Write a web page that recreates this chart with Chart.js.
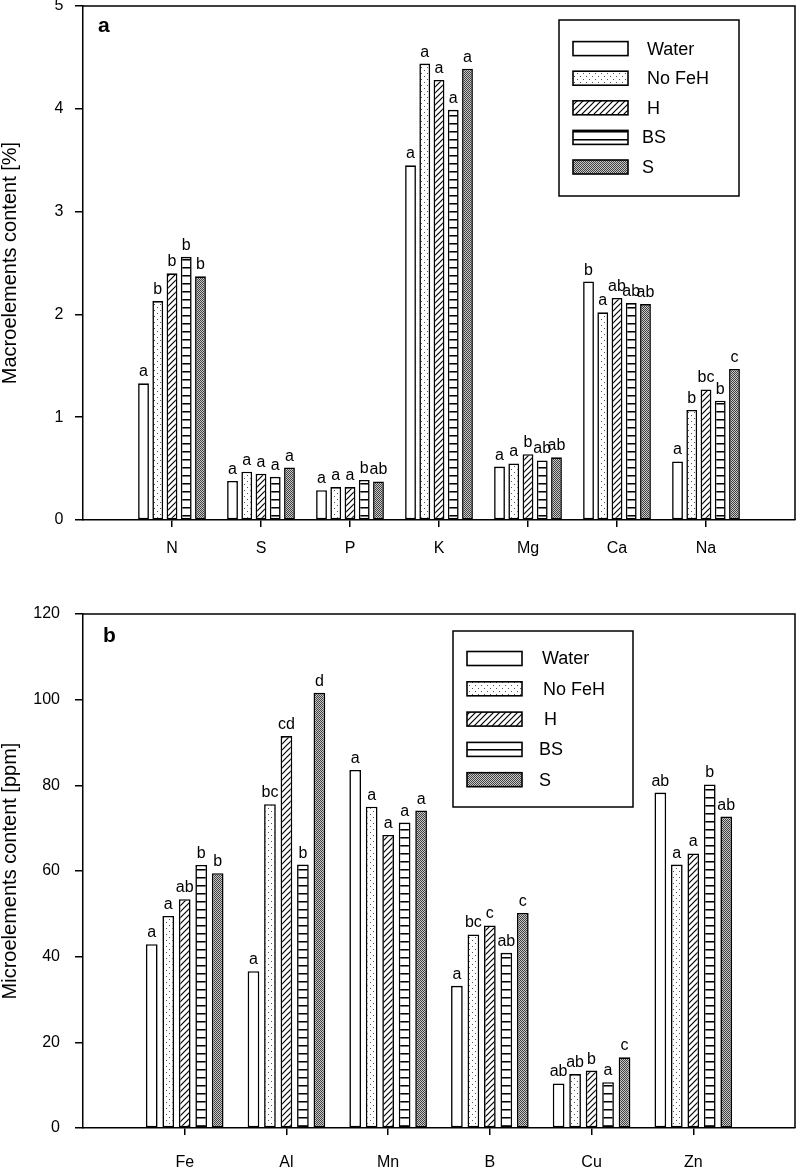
<!DOCTYPE html>
<html>
<head>
<meta charset="utf-8">
<script src="https://cdn.jsdelivr.net/npm/chart.js@4.4.1/dist/chart.umd.min.js"></script>
<style>
  html, body { margin: 0; padding: 0; background: #fff; }
  #wrap { position: relative; width: 796px; height: 1169px; }
  canvas { position: absolute; left: 0; }
  #macroChart { top: 0; }
  #microChart { top: 570px; }
</style>
</head>
<body>
<div id="wrap">
  <canvas id="macroChart" width="796" height="570"></canvas>
  <canvas id="microChart" width="796" height="599"></canvas>
</div>
<script>
// series (treatments)
const seriesNames = ['Water', 'No FeH', 'H', 'BS', 'S'];

// panel a: macroelements [%]
const macroLabels = ['N', 'S', 'P', 'K', 'Mg', 'Ca', 'Na'];
const macroWater = [1.33, 0.38, 0.29, 3.45, 0.52, 2.32, 0.57];
const macroNoFeH = [2.13, 0.47, 0.32, 4.44, 0.55, 2.02, 1.07];
const macroH     = [2.40, 0.45, 0.32, 4.28, 0.64, 2.16, 1.27];
const macroBS    = [2.56, 0.42, 0.39, 3.99, 0.58, 2.11, 1.16];
const macroS     = [2.37, 0.51, 0.375, 4.39, 0.61, 2.10, 1.47];
const macroLetters = [
  ['a', 'a', 'a', 'a', 'a', 'b', 'a'],
  ['b', 'a', 'a', 'a', 'a', 'a', 'b'],
  ['b', 'a', 'a', 'a', 'b', 'ab', 'bc'],
  ['b', 'a', 'b', 'a', 'ab', 'ab', 'b'],
  ['b', 'a', 'ab', 'a', 'ab', 'ab', 'c']
];
const macroTicks = { min: 0, max: 5, step: 1 };

// panel b: microelements [ppm]
const microLabels = ['Fe', 'Al', 'Mn', 'B', 'Cu', 'Zn'];
const microWater = [42.9, 36.6, 83.6, 33.2, 10.4, 78.3];
const microNoFeH = [49.5, 75.6, 75.0, 45.2, 12.6, 61.5];
const microH     = [53.4, 91.5, 68.4, 47.3, 13.4, 64.1];
const microBS    = [61.4, 61.5, 71.3, 40.9, 10.7, 80.2];
const microS     = [59.5, 101.6, 74.1, 50.2, 16.5, 72.7];
const microLetters = [
  ['a', 'a', 'a', 'a', 'ab', 'ab'],
  ['a', 'bc', 'a', 'bc', 'ab', 'a'],
  ['ab', 'cd', 'a', 'c', 'b', 'a'],
  ['b', 'b', 'a', 'ab', 'a', 'b'],
  ['b', 'd', 'a', 'c', 'c', 'ab']
];
const microTicks = { min: 0, max: 120, step: 20 };

const FONT = "'Liberation Sans', Arial, sans-serif";
Chart.defaults.font.family = FONT;
Chart.defaults.color = '#000';

// fill patterns like the sigmaplot hatches
function pattern(w, h, draw) {
  const c = document.createElement('canvas');
  c.width = w; c.height = h;
  const g = c.getContext('2d');
  g.fillStyle = '#fff';
  g.fillRect(0, 0, w, h);
  draw(g);
  return g.createPattern(c, 'repeat');
}
const fills = [
  '#ffffff',
  pattern(6, 6, g => {
    g.fillStyle = '#555';
    g.fillRect(1, 1, 1, 1);
    g.fillRect(4, 4, 1, 1);
  }),
  pattern(6, 6, g => {
    g.strokeStyle = '#000';
    g.lineWidth = 1.2;
    g.beginPath();
    g.moveTo(0, 6); g.lineTo(6, 0);
    g.moveTo(-1, 1); g.lineTo(1, -1);
    g.moveTo(5, 7); g.lineTo(7, 5);
    g.stroke();
  }),
  pattern(4, 8, g => {
    g.fillStyle = '#000';
    g.fillRect(0, 3, 4, 1);
    g.fillStyle = '#777';
    g.fillRect(0, 4, 4, 1);
  }),
  pattern(2, 2, g => {
    g.fillStyle = '#c8c8c8';
    g.fillRect(0, 0, 2, 2);
    g.fillStyle = '#404040';
    g.fillRect(0, 0, 1, 1);
    g.fillRect(1, 1, 1, 1);
  })
];

// frame, significance letters, panel letter and boxed legend
const decor = {
  id: 'decor',
  afterDatasetsDraw(chart, args, opts) {
    const ctx = chart.ctx;
    const area = chart.chartArea;
    ctx.save();
    ctx.strokeStyle = '#000';
    ctx.lineWidth = 1.5;
    ctx.beginPath();
    ctx.moveTo(area.left, area.top);
    ctx.lineTo(area.right, area.top);
    ctx.lineTo(area.right, area.bottom);
    ctx.stroke();

    ctx.fillStyle = '#000';
    ctx.font = '16px ' + FONT;
    ctx.textAlign = 'center';
    ctx.textBaseline = 'alphabetic';
    opts.letters.forEach((row, i) => {
      const meta = chart.getDatasetMeta(i);
      row.forEach((txt, j) => {
        const bar = meta.data[j + 1];
        ctx.fillText(txt, bar.x, bar.y - 7);
      });
    });

    ctx.font = 'bold 21px ' + FONT;
    ctx.textAlign = 'left';
    ctx.fillText(opts.panel, opts.panelX, opts.panelY);

    const L = opts.legend;
    ctx.lineWidth = 1.5;
    ctx.strokeRect(L.x, L.y, L.w, L.h);
    ctx.font = '18px ' + FONT;
    ctx.textBaseline = 'middle';
    seriesNames.forEach((name, i) => {
      const cy = L.y + L.first + i * L.step;
      ctx.fillStyle = fills[i];
      ctx.fillRect(L.sx, cy - 7, 55, 14);
      ctx.lineWidth = 1.6;
      ctx.strokeRect(L.sx, cy - 7, 55, 14);
      ctx.fillStyle = '#000';
      ctx.fillText(name, L.tx[i], cy + 1);
    });
    ctx.restore();
  }
};

function buildChart(id, cfg) {
  const pad = arr => [null, ...arr, null];
  const labels = ['', ...cfg.categories, ''];
  const last = labels.length - 1;
  const datasets = cfg.values.map((vals, i) => ({
    label: seriesNames[i],
    data: pad(vals),
    backgroundColor: fills[i],
    borderColor: '#000',
    borderWidth: 1.6,
    borderSkipped: false,
    barPercentage: cfg.barPct,
    categoryPercentage: cfg.catPct
  }));

  return new Chart(document.getElementById(id), {
    type: 'bar',
    data: { labels, datasets },
    plugins: [decor],
    options: {
      responsive: false,
      animation: false,
      devicePixelRatio: 1,
      layout: { padding: { top: cfg.top, right: 1, left: 0, bottom: 0 } },
      plugins: {
        legend: { display: false },
        tooltip: { enabled: false },
        decor: {
          letters: cfg.letters,
          panel: cfg.panel,
          panelX: cfg.panelX,
          panelY: cfg.panelY,
          legend: cfg.legend
        }
      },
      scales: {
        x: {
          type: 'category',
          offset: false,
          grid: {
            offset: false,
            drawOnChartArea: false,
            drawTicks: true,
            tickLength: 7,
            lineWidth: 1.5,
            color: c => (c.index === 0 || c.index === last) ? 'rgba(0,0,0,0)' : '#000'
          },
          border: { color: '#000', width: 1.5 },
          ticks: {
            padding: cfg.xPad,
            autoSkip: false,
            maxRotation: 0,
            color: '#000',
            font: { size: 16 }
          },
          afterFit: s => {
            s.height = cfg.xHeight;
            s.paddingLeft = 0;
            s.paddingRight = 0;
          }
        },
        y: {
          min: cfg.ticks.min,
          max: cfg.ticks.max,
          grid: {
            drawOnChartArea: false,
            drawTicks: true,
            tickLength: 8,
            lineWidth: 1.5,
            color: '#000'
          },
          border: { color: '#000', width: 1.5 },
          ticks: {
            stepSize: cfg.ticks.step,
            padding: cfg.yPad,
            color: '#000',
            font: { size: 16 }
          },
          title: {
            display: true,
            text: cfg.yTitle,
            color: '#000',
            padding: { top: 1, bottom: 0 },
            font: { size: 20, lineHeight: 0.9 }
          },
          afterFit: s => {
            s.width = 83;
            s.paddingTop = 0;
            s.paddingBottom = 0;
          }
        }
      }
    }
  });
}

buildChart('macroChart', {
  categories: macroLabels,
  values: [macroWater, macroNoFeH, macroH, macroBS, macroS],
  letters: macroLetters,
  ticks: macroTicks,
  yTitle: 'Macroelements content [%]',
  top: 6,
  xHeight: 50,
  xPad: 12,
  yPad: 11.5,
  barPct: 0.76,
  catPct: 0.80,
  panel: 'a',
  panelX: 98,
  panelY: 32,
  legend: { x: 559, y: 20, w: 180, h: 176, sx: 573, first: 28.6, step: 29.6, tx: [647, 647, 647, 642, 642] }
});

buildChart('microChart', {
  categories: microLabels,
  values: [microWater, microNoFeH, microH, microBS, microS],
  letters: microLetters,
  ticks: microTicks,
  yTitle: 'Microelements content [ppm]',
  top: 44,
  xHeight: 41,
  xPad: 18,
  yPad: 15,
  barPct: 0.71,
  catPct: 0.81,
  panel: 'b',
  panelX: 103,
  panelY: 72,
  legend: { x: 453, y: 61, w: 180, h: 176, sx: 467, first: 27.5, step: 30.3, tx: [542, 543, 544, 539, 539] }
});
</script>
</body>
</html>
